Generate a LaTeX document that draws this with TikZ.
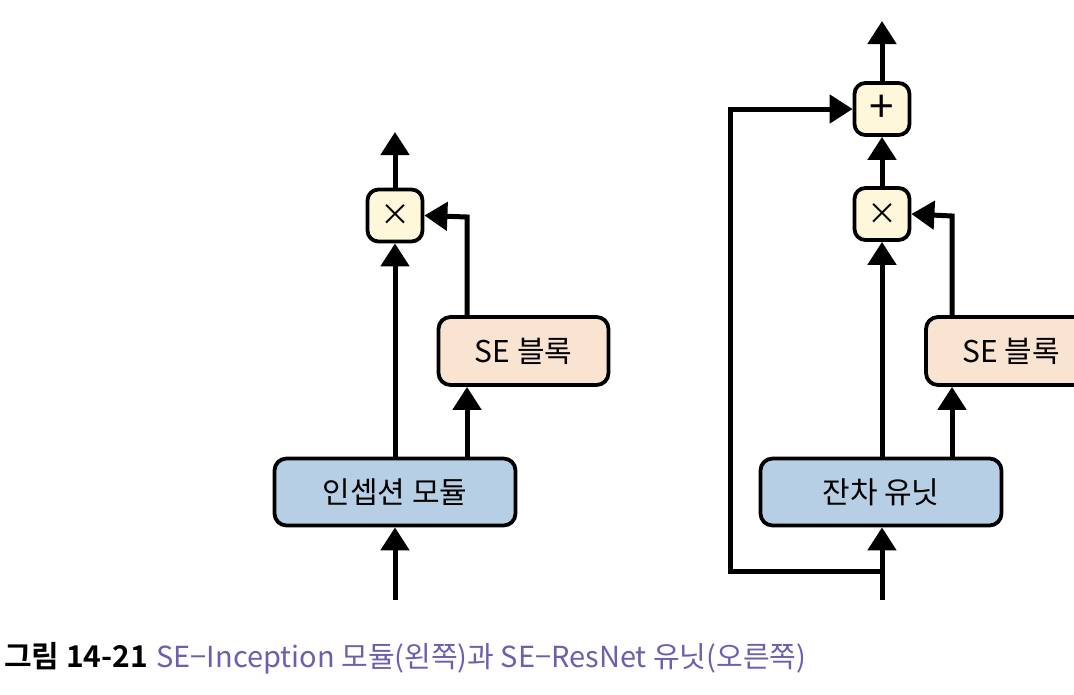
\documentclass[tikz,border=0pt]{standalone}
\usepackage{fontspec}
\setmainfont{Noto Sans CJK KR}
\newfontfamily\krbold{Noto Sans CJK KR Bold}
\usetikzlibrary{arrows.meta}
\definecolor{boxblue}{RGB}{182,207,229}
\definecolor{boxpeach}{RGB}{249,228,210}
\definecolor{boxyellow}{RGB}{254,247,218}
\definecolor{capcol}{RGB}{106,96,172}
\tikzset{
  blk/.style={draw=black, line width=3.8pt, rounded corners=12pt, inner sep=0pt, font=\fontsize{30}{30}\selectfont},
  mainbox/.style={blk, fill=boxblue, minimum width=241pt, minimum height=67pt},
  sebox/.style={blk, fill=boxpeach, minimum width=170pt, minimum height=68pt},
  opbox/.style={blk, fill=boxyellow, minimum width=55pt, minimum height=52pt, rounded corners=11pt, font=\fontsize{30}{30}\selectfont},
  flow/.style={line width=5pt, -{Triangle[width=28pt,length=23pt]}},
  plain/.style={line width=5pt},
}
\begin{document}
\begin{tikzpicture}[x=1pt,y=-1pt]
\useasboundingbox (0,0) rectangle (1074,694);
% left diagram
\node[mainbox] (inc) at (395,492) {인셉션 모듈};
\node[sebox] (se1) at (523.5,351) {SE 블록};
\node[opbox] (mul1) at (395,215.5) {×};
\coordinate (in1) at (395,600);
\coordinate (out1) at (395,132);
\coordinate (c1) at (467,217);
\draw[flow] (in1) -- (inc.south);
\draw[flow] (inc.north) -- (mul1.south);
\draw[flow] (467,0 |- inc.north) -- (467,0 |- se1.south);
\draw[flow] (467,0 |- se1.north) -- (c1) -- (mul1.east);
\draw[flow] (mul1.north) -- (out1);
% right diagram
\node[mainbox] (res) at (881,492) {잔차 유닛};
\node[sebox] (se2) at (1011,351) {SE 블록};
\node[opbox] (mul2) at (882,214) {×};
\node[opbox, font=\fontsize{44}{44}\selectfont] (add) at (882,109) {+};
\coordinate (in2) at (882,600);
\coordinate (sk) at (882,571);
\coordinate (skl) at (730,571);
\coordinate (skt) at (730,109);
\coordinate (out2) at (882,21);
\coordinate (c2) at (952,216);
\draw[flow] (in2) -- (sk) -- (res.south -| sk);
\draw[plain, line join=miter] (sk) -- (skl) -- (skt) -- ++(10,0);
\draw[flow] (skt) -- (add.west);
\draw[flow] (res.north -| mul2.south) -- (mul2.south);
\draw[flow] (952,0 |- res.north) -- (952,0 |- se2.south);
\draw[flow] (952,0 |- se2.north) -- (c2) -- (mul2.east);
\draw[flow] (mul2.north) -- (add.south);
\draw[flow] (add.north) -- (out2);
% caption
\node[anchor=base west, inner sep=0pt, font=\fontsize{30}{30}\selectfont\krbold] (capa) at (4,667) {그림 14-21};
\node[anchor=base west, inner sep=0pt, text=capcol, font=\fontsize{29}{29}\selectfont] (capb) at ([xshift=8pt]capa.base east) {SE−Inception 모듈(왼쪽)과 SE−ResNet 유닛(오른쪽)};
\end{tikzpicture}
\end{document}
